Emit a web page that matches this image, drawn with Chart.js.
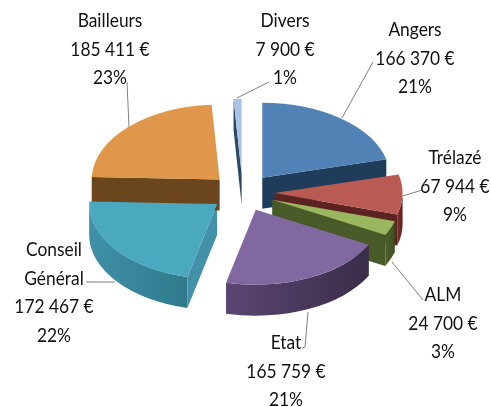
<!DOCTYPE html>
<html>
<head>
<meta charset="utf-8">
<style>
  html, body { margin: 0; padding: 0; background: #fff; }
  canvas { display: block; filter: blur(0.4px); }
</style>
<script src="https://cdn.jsdelivr.net/npm/chart.js@4"></script>
</head>
<body>
<canvas id="budget" width="491" height="407"></canvas>
<script>
// Financement: tarte 3D eclatee, dessinee a partir des arcs de Chart.js
const categories = ['Angers', 'Trélazé', 'ALM', 'Etat', 'Conseil Général', 'Bailleurs', 'Divers'];
const amounts = [166370, 67944, 24700, 165759, 172467, 185411, 7900];
const percents = [21, 9, 3, 21, 22, 23, 1];

const topColors = ['#5082B6', '#B95B53', '#9AB65E', '#8268A0', '#4AA8BF', '#E0974B', '#A9C2E6'];
const faceColors = ['#1F3D5B', '#5C2320', '#485A28', '#3E304F', '#4391A8', '#6B451C', '#2C4868'];
const rimLeft = ['#2A5078', '#7A302B', '#4D6029', '#5B4672', '#3F90A8', '#6B451C', '#2C4868'];
const rimRight = ['#1F3D5B', '#5C2320', '#3F4F22', '#392D49', '#2F7A8C', '#6B451C', '#2C4868'];

// centre de chaque bloc de texte et lignes de rappel, en pixels
const labelCenters = [[415, 30], [455, 158], [443, 295], [286, 343], [54, 250], [110, 21], [285, 21]];
const leaders = [
  [[373, 62], [342, 118]],
  [[403, 196], [422, 190]],
  [[392, 262], [423, 300]],
  [[308, 312], [305, 347], [302, 348]],
  [[86, 282], [115, 282]],
  [[127, 82], [129, 127]],
  [[269, 82], [237, 98]]
];

const tilt = 0.586;
const depth = 31;
const explode = 32;
const lineHeight = 28.5;
const textSqueeze = 0.89;

function amountText(v) {
  return String(v).replace(/\B(?=(\d{3})+$)/g, ' ') + ' €';
}

function drawSide(ctx, arc, i) {
  const a0 = arc.startAngle, a1 = arc.endAngle, r = arc.outerRadius;
  const cx = arc.x, cy = arc.y;
  const px = a => cx + r * Math.cos(a);
  const py = a => cy + r * tilt * Math.sin(a);

  ctx.fillStyle = faceColors[i];
  [[a0, Math.cos(a0) < 0], [a1, Math.cos(a1) > 0]].forEach(([a, visible]) => {
    if (!visible) return;
    ctx.beginPath();
    ctx.moveTo(cx, cy);
    ctx.lineTo(px(a), py(a));
    ctx.lineTo(px(a), py(a) + depth);
    ctx.lineTo(cx, cy + depth);
    ctx.closePath();
    ctx.fill();
  });

  // partie avant du bord: seulement l'arc tourne vers le bas
  const from = Math.max(a0, 0), to = Math.min(a1, Math.PI);
  const from2 = Math.max(a0, 2 * Math.PI), to2 = Math.min(a1, 3 * Math.PI);
  [[from, to], [from2, to2]].forEach(([s, e]) => {
    if (e <= s) return;
    const grad = ctx.createLinearGradient(px(e), 0, px(s), 0);
    grad.addColorStop(0, rimLeft[i]);
    grad.addColorStop(1, rimRight[i]);
    ctx.fillStyle = grad;
    ctx.beginPath();
    ctx.ellipse(cx, cy, r, r * tilt, 0, s, e);
    ctx.ellipse(cx, cy + depth, r, r * tilt, 0, e, s, true);
    ctx.closePath();
    ctx.fill();
  });
}

const pie3d = {
  id: 'pie3d',
  beforeDatasetsDraw(chart) {
    const ctx = chart.ctx;
    const arcs = chart.getDatasetMeta(0).data;
    const shift = arc => {
      const mid = (arc.startAngle + arc.endAngle) / 2;
      return [explode * Math.cos(mid), explode * tilt * Math.sin(mid)];
    };
    // les flancs d'abord, du fond vers l'avant, puis les dessus
    arcs.forEach((arc, i) => {
      const [dx, dy] = shift(arc);
      ctx.save();
      ctx.translate(dx, dy);
      drawSide(ctx, arc, i);
      ctx.restore();
    });
    arcs.forEach(arc => {
      const [dx, dy] = shift(arc);
      ctx.save();
      ctx.translate(dx, dy + arc.y);
      ctx.scale(1, tilt);
      ctx.translate(0, -arc.y);
      arc.draw(ctx, chart.chartArea);
      ctx.restore();
    });
    return false;
  },
  afterDraw(chart) {
    const ctx = chart.ctx;
    ctx.save();
    ctx.strokeStyle = '#7f7f7f';
    ctx.lineWidth = 1;
    leaders.forEach(pts => {
      ctx.beginPath();
      pts.forEach((p, k) => k ? ctx.lineTo(p[0], p[1]) : ctx.moveTo(p[0], p[1]));
      ctx.stroke();
    });
    ctx.fillStyle = '#111';
    ctx.font = '19.5px Lato';
    ctx.textAlign = 'center';
    ctx.textBaseline = 'middle';
    categories.forEach((name, i) => {
      const lines = [...name.split(' '), amountText(amounts[i]), percents[i] + '%'];
      lines.forEach((line, k) => {
        ctx.save();
        ctx.translate(labelCenters[i][0], labelCenters[i][1] + k * lineHeight);
        ctx.scale(textSqueeze, 1);
        ctx.fillText(line, 0, 0);
        ctx.restore();
      });
    });
    ctx.restore();
  }
};

new Chart(document.getElementById('budget'), {
  type: 'pie',
  data: {
    labels: categories,
    datasets: [{ data: amounts, backgroundColor: topColors, borderWidth: 0 }]
  },
  options: {
    responsive: false,
    animation: false,
    radius: 128,
    layout: { padding: { right: 5.8, bottom: 21.8 } },
    plugins: { legend: { display: false }, tooltip: { enabled: false } }
  },
  plugins: [pie3d]
});
</script>
</body>
</html>
